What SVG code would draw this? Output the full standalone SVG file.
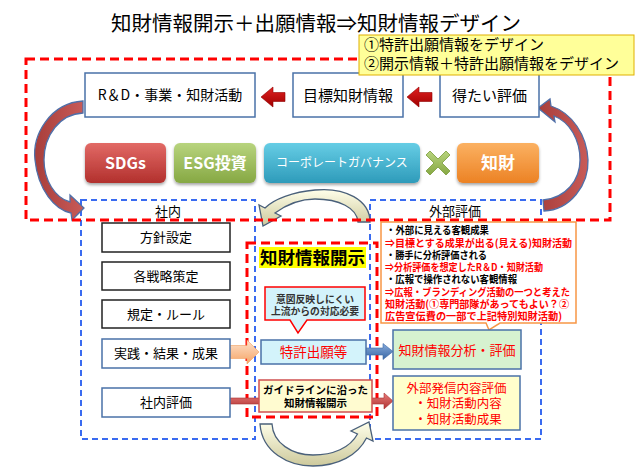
<svg xmlns="http://www.w3.org/2000/svg" width="635" height="476" viewBox="0 0 635 476">
<defs>
<style>
text{font-family:"Noto Sans CJK JP","Noto Sans",sans-serif;fill:#000}
.c{text-anchor:middle}
.b{font-weight:bold}
.red{fill:#FF0000}
.wt{fill:#FFFFFF;font-weight:bold}
.box{fill:#FFFFFF;stroke:#4A72A8;stroke-width:1.5}
.kbox{fill:#FFFFFF;stroke:#222;stroke-width:1.5}
.rdash{fill:none;stroke:#FF0000;stroke-width:3;stroke-dasharray:9 5}
.bdash{fill:none;stroke:#3A6BF0;stroke-width:2;stroke-dasharray:6 4}
.curve{fill:url(#gCurve);stroke:#4F6FA8;stroke-width:1.3}
.yarrow{fill:url(#gYel);stroke:#4A607A;stroke-width:1.3}
.ct{font-size:10.3px;font-weight:bold}
</style>
<linearGradient id="gRedBtn" x1="0" y1="0" x2="0" y2="1"><stop offset="0" stop-color="#E26A66"/><stop offset="1" stop-color="#B2302D"/></linearGradient>
<linearGradient id="gGreenBtn" x1="0" y1="0" x2="0" y2="1"><stop offset="0" stop-color="#B8D47E"/><stop offset="1" stop-color="#86A843"/></linearGradient>
<linearGradient id="gCyanBtn" x1="0" y1="0" x2="0" y2="1"><stop offset="0" stop-color="#66CDE5"/><stop offset="1" stop-color="#2E9BBA"/></linearGradient>
<linearGradient id="gOrBtn" x1="0" y1="0" x2="0" y2="1"><stop offset="0" stop-color="#FBB162"/><stop offset="1" stop-color="#EC8224"/></linearGradient>
<linearGradient id="gDarkRed" x1="0" y1="0" x2="0" y2="1"><stop offset="0" stop-color="#E02020"/><stop offset="1" stop-color="#A00000"/></linearGradient>
<linearGradient id="gCurve" x1="0" y1="0" x2="1" y2="0"><stop offset="0" stop-color="#A83E3B"/><stop offset="1" stop-color="#C85B58"/></linearGradient>
<linearGradient id="gYel" x1="0" y1="0" x2="0" y2="1"><stop offset="0" stop-color="#FFFFEA"/><stop offset="1" stop-color="#CDC99C"/></linearGradient>
<linearGradient id="gOrArr" x1="0" y1="0" x2="0" y2="1"><stop offset="0" stop-color="#FDE2CC"/><stop offset="1" stop-color="#F5A466"/></linearGradient>
<linearGradient id="gBlueArr" x1="0" y1="0" x2="0" y2="1"><stop offset="0" stop-color="#86AADB"/><stop offset="1" stop-color="#3A68A6"/></linearGradient>
<linearGradient id="gRedArr" x1="0" y1="0" x2="0" y2="1"><stop offset="0" stop-color="#E87A78"/><stop offset="1" stop-color="#B03434"/></linearGradient>
<filter id="sh" x="-10%" y="-10%" width="120%" height="140%"><feDropShadow dx="0" dy="2" stdDeviation="1.5" flood-opacity="0.35"/></filter>
</defs>

<rect width="635" height="476" fill="#FFFFFF"/>

<g id="title">
<text class="c" x="316" y="31" font-size="20.5">知財情報開示＋出願情報⇒知財情報デザイン</text>
</g>

<g id="group-internal">
<rect class="bdash" x="81" y="200" width="174" height="239"/>
<text class="c" x="168" y="216" font-size="13">社内</text>
</g>
<g id="group-external">
<rect class="bdash" x="370" y="200" width="171" height="239"/>
<text class="c" x="455" y="216" font-size="13">外部評価</text>
</g>
<g id="group-disclosure">
<rect class="rdash" x="247" y="243" width="130" height="174"/>
<rect x="259" y="247" width="107" height="21" fill="#FFFF00"/>
<text class="c b" x="312.5" y="264" font-size="17.5">知財情報開示</text>
</g>

<g id="connectors">
<path class="yarrow" d="M370,222 C370,200 345,187 315,190 C293,192 274,199 265,208 L259,205 L263,226 L281,216 L275,213 C286,205 299,199 315,199 C339,199 357,208 358,222 Z"/>
<path class="yarrow" d="M260,424 C262,452 288,466 313,466 C338,466 358,455 366.5,438 L373,441 L369,422 L351,431 L357.5,434 C350,448 333,455 313,455 C292,455 273,443 272,424 Z"/>
<path class="curve" d="M83,101 C50,103 32,135 35,160 C38,190 55,210 71,213 L72,220 L84,208 L70,195 L70,202 C55,198 44,180 44,160 C44,135 60,114 83,113 Z"/>
<path class="curve" d="M544,211 C570,210 589,185 588,160 C587,135 572,113 551,106 L550,99 L538,108 L555,122 L554,116 C570,122 580,140 580,160 C580,180 566,198 543,200 Z"/>
<polygon points="261,97 273,87 273,92.5 285,92.5 285,101.5 273,101.5 273,107" fill="url(#gDarkRed)" stroke="#900000" stroke-width="0.6"/>
<polygon points="407,97 419,87 419,92.5 432,92.5 432,101.5 419,101.5 419,107" fill="url(#gDarkRed)" stroke="#900000" stroke-width="0.6"/>
<polygon points="259,352 247,340 247,345.5 230,345.5 230,358.5 247,358.5 247,364" fill="url(#gOrArr)" stroke="#F0A060" stroke-width="0.6"/>
<polygon points="393,351.5 383,343.5 383,348 340,348 340,355 383,355 383,359.5" fill="url(#gBlueArr)" stroke="#3A68A6" stroke-width="0.6"/>
<polygon points="393,401 384,393 384,398 230,398 230,404 384,404 384,409" fill="url(#gRedArr)" stroke="#A83030" stroke-width="0.6"/>
</g>

<g id="frame-outer">
<rect class="rdash" x="26" y="59" width="584" height="161"/>
</g>

<g id="box-rd">
<rect class="box" x="85" y="73" width="170" height="44"/>
<text class="c" x="170" y="100" font-size="14">R＆D・事業・知財活動</text>
</g>
<g id="box-target">
<rect class="box" x="293" y="73" width="110" height="44"/>
<text class="c" x="348" y="100.5" font-size="15">目標知財情報</text>
</g>
<g id="box-eval">
<rect class="box" x="440" y="73" width="99" height="44"/>
<text class="c" x="489.5" y="100.5" font-size="15">得たい評価</text>
</g>

<g id="btn-sdgs">
<rect x="85" y="143" width="81" height="40" rx="6" fill="url(#gRedBtn)" filter="url(#sh)"/>
<text class="c wt" x="125.5" y="169" font-size="16">SDGs</text>
</g>
<g id="btn-esg">
<rect x="174" y="143" width="82" height="40" rx="6" fill="url(#gGreenBtn)" filter="url(#sh)"/>
<text class="c wt" x="215" y="169" font-size="16">ESG投資</text>
</g>
<g id="btn-cg">
<rect x="264" y="143" width="156" height="40" rx="6" fill="url(#gCyanBtn)" filter="url(#sh)"/>
<text class="c" x="342" y="167" font-size="12" style="fill:#FFFFFF">コーポレートガバナンス</text>
</g>
<g id="mark-x">
<polygon transform="translate(438,163)" points="-12,-8 -8,-12 0,-4 8,-12 12,-8 4,0 12,8 8,12 0,4 -8,12 -12,8 -4,0" fill="url(#gGreenBtn)" stroke="#7A9A3A" stroke-width="0.8"/>
</g>
<g id="btn-ip">
<rect x="457" y="143" width="82" height="40" rx="6" fill="url(#gOrBtn)" filter="url(#sh)"/>
<text class="c wt" x="498" y="169" font-size="17">知財</text>
</g>

<g id="box-policy">
<rect class="kbox" x="102" y="223" width="128" height="29"/>
<text class="c" x="166" y="242" font-size="13">方針設定</text>
</g>
<g id="box-strategy">
<rect class="kbox" x="102" y="262" width="128" height="28"/>
<text class="c" x="166" y="280.5" font-size="13">各戦略策定</text>
</g>
<g id="box-rules">
<rect class="kbox" x="102" y="300" width="128" height="28"/>
<text class="c" x="166" y="318.5" font-size="13">規定・ルール</text>
</g>
<g id="box-practice">
<rect class="box" x="102" y="339" width="128" height="29"/>
<text class="c" x="166" y="358" font-size="13">実践・結果・成果</text>
</g>
<g id="box-internal-eval">
<rect class="box" x="102" y="388" width="128" height="29"/>
<text class="c" x="166" y="407" font-size="13">社内評価</text>
</g>

<g id="callout-upstream">
<path d="M265,287 H365 V320 H307 L298,333 L290,320 H265 Z" fill="#D3F3FB" stroke="#FF0000" stroke-width="1.5"/>
<text class="c b" x="315" y="302.5" font-size="9.8" style="fill:#333">意図反映しにくい</text>
<text class="c b" x="315" y="315" font-size="9.8" style="fill:#333">上流からの対応必要</text>
</g>
<g id="box-patent">
<rect x="261" y="340" width="105" height="24" fill="#D3F3FB" stroke="#4A72A8" stroke-width="1.5"/>
<text class="c red" x="313.5" y="357" font-size="13.5">特許出願等</text>
</g>
<g id="box-guideline">
<rect x="259" y="380" width="113" height="32" fill="#FFFBD0" stroke="#D05050" stroke-width="1.5"/>
<text class="c b" x="315.5" y="393.5" font-size="10.5">ガイドラインに沿った</text>
<text class="c b" x="315.5" y="407" font-size="10.5">知財情報開示</text>
</g>

<g id="callout-external">
<path d="M381,222 H576 V323 H500 L489,330 L486,323 H381 Z" fill="#FFFFFF" stroke="#F79646" stroke-width="1.5"/>
<text class="ct" x="386" y="234" textLength="103" lengthAdjust="spacingAndGlyphs">・外部に見える客観成果</text>
<text class="ct red" x="385" y="246.5" textLength="187" lengthAdjust="spacingAndGlyphs">⇒目標とする成果が出る(見える)知財活動</text>
<text class="ct" x="386" y="259" textLength="101" lengthAdjust="spacingAndGlyphs">・勝手に分析評価される</text>
<text class="ct red" x="385" y="271" textLength="158" lengthAdjust="spacingAndGlyphs">⇒分析評価を想定したR＆D・知財活動</text>
<text class="ct" x="386" y="283" textLength="131" lengthAdjust="spacingAndGlyphs">・広報で操作されない客観情報</text>
<text class="ct red" x="385" y="296" textLength="185" lengthAdjust="spacingAndGlyphs">⇒広報・ブランディング活動の一つと考えた</text>
<text class="ct red" x="385" y="308" textLength="184" lengthAdjust="spacingAndGlyphs">知財活動(①専門部隊があってもよい？②</text>
<text class="ct red" x="385" y="320" textLength="177" lengthAdjust="spacingAndGlyphs">広告宣伝費の一部で上記特別知財活動)</text>
</g>
<g id="box-analysis">
<rect x="393" y="330" width="128" height="39" fill="#D6F2D0" stroke="#4A72A8" stroke-width="1.5"/>
<text class="c red" x="457" y="355" font-size="13">知財情報分析・評価</text>
</g>
<g id="box-outward">
<rect x="393" y="376" width="127" height="54" fill="#FFFFCC" stroke="#4A72A8" stroke-width="1.5"/>
<text class="c red" x="456.5" y="393" font-size="12.5">外部発信内容評価</text>
<text class="c red" x="458" y="408" font-size="12.5">・知財活動内容</text>
<text class="c red" x="458" y="423.5" font-size="12.5">・知財活動成果</text>
</g>

<g id="note">
<rect x="359" y="35" width="275" height="40" fill="#FFFF99" stroke="#E0B000" stroke-width="1"/>
<text x="364" y="50" font-size="15">①特許出願情報をデザイン</text>
<text x="364" y="69" font-size="15">②開示情報＋特許出願情報をデザイン</text>
</g>
</svg>
